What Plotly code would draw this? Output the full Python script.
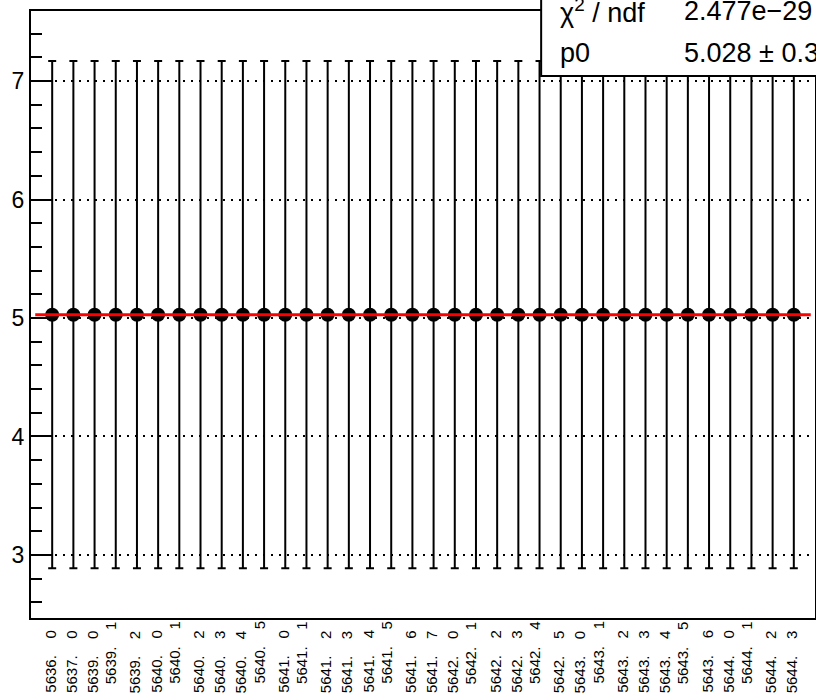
import plotly.graph_objects as go

# ---- data ----
run_labels = [
    "5636. 0", "5637. 0", "5639. 0", "5639. 1", "5639. 2", "5640. 0", "5640. 1",
    "5640. 2", "5640. 3", "5640. 4", "5640. 5", "5641. 0", "5641. 1", "5641. 2",
    "5641. 3", "5641. 4", "5641. 5", "5641. 6", "5641. 7", "5642. 0", "5642. 1",
    "5642. 2", "5642. 3", "5642. 4", "5642. 5", "5643. 0", "5643. 1", "5643. 2",
    "5643. 3", "5643. 4", "5643. 5", "5643. 6", "5644. 0", "5644. 1", "5644. 2",
    "5644. 3",
]
values = [
    5.028, 5.028, 5.028, 5.028, 5.028, 5.028, 5.028, 5.028, 5.028, 5.028, 5.028, 5.028,
    5.028, 5.028, 5.028, 5.028, 5.028, 5.028, 5.028, 5.028, 5.028, 5.028, 5.028, 5.028,
    5.028, 5.028, 5.028, 5.028, 5.028, 5.028, 5.028, 5.028, 5.028, 5.028, 5.028, 5.028,
]
errors = [
    2.14, 2.14, 2.14, 2.14, 2.14, 2.14, 2.14, 2.14, 2.14, 2.14, 2.14, 2.14,
    2.14, 2.14, 2.14, 2.14, 2.14, 2.14, 2.14, 2.14, 2.14, 2.14, 2.14, 2.14,
    2.14, 2.14, 2.14, 2.14, 2.14, 2.14, 2.14, 2.14, 2.14, 2.14, 2.14, 2.14,
]
fit_p0 = 5.028
chi2_text = "2.477e\u221229"
p0_text = "5.028 \u00b1 0.3"
y_ticks = [3, 4, 5, 6, 7]

# labels drawn slightly raised (staggered) in the original
staggered = {3, 6, 10, 12, 16, 20, 23, 26, 30, 33}

FONT = "Liberation Sans, Arial, Helvetica, sans-serif"
NB = "\u00a0"

xs = list(range(len(values)))
n = len(values)

fig = go.Figure()
fig.add_trace(go.Scatter(
    x=xs, y=values, mode="markers",
    marker=dict(color="black", size=14),
    error_y=dict(type="data", array=errors, visible=True, color="black",
                 thickness=2, width=4),
    showlegend=False, hoverinfo="skip",
))
fig.add_trace(go.Scatter(
    x=[-0.8, n - 1 + 0.8], y=[fit_p0, fit_p0], mode="lines",
    line=dict(color="#ff0000", width=3), showlegend=False, hoverinfo="skip",
))

annotations = []
for i, lab in enumerate(run_labels):
    txt = lab.replace(" ", NB * 4)
    st = i in staggered
    annotations.append(dict(
        x=i, xref="x", y=-0.0165 if not st else -0.0016, yref="paper",
        text=txt, textangle=-90, showarrow=False,
        xanchor="center", yanchor="top",
        xshift=-2 if not st else -5,
        font=dict(family=FONT, size=15, color="black"),
    ))

STAT_SIZE = 27
annotations += [
    dict(x=0.672, xref="paper", y=1.0, yref="paper", text="\u03c7<sup>2</sup> / ndf",
         showarrow=False, xanchor="left", yanchor="middle",
         font=dict(family=FONT, size=STAT_SIZE, color="black")),
    dict(x=0.830, xref="paper", y=1.0, yref="paper", text=chi2_text,
         showarrow=False, xanchor="left", yanchor="middle",
         font=dict(family=FONT, size=STAT_SIZE, color="black")),
    dict(x=0.672, xref="paper", y=0.930, yref="paper", text="p0",
         showarrow=False, xanchor="left", yanchor="middle",
         font=dict(family=FONT, size=STAT_SIZE, color="black")),
    dict(x=0.830, xref="paper", y=0.930, yref="paper", text=p0_text,
         showarrow=False, xanchor="left", yanchor="middle",
         font=dict(family=FONT, size=STAT_SIZE, color="black")),
]

fig.update_layout(
    width=816, height=696,
    margin=dict(l=30.5, r=1, t=11, b=78, pad=0, autoexpand=False),
    paper_bgcolor="white", plot_bgcolor="white",
    font=dict(family=FONT, color="black"),
    xaxis=dict(range=[-1, n], showticklabels=False, ticks="", showgrid=False,
               zeroline=False, showline=True, linecolor="black", linewidth=2,
               mirror=True, automargin=False),
    yaxis=dict(range=[2.468, 7.591], tickvals=y_ticks, ticks="inside", ticklen=22,
               tickwidth=2, tickcolor="black", showgrid=True, gridcolor="black",
               griddash="2px,6px", gridwidth=1.5, zeroline=False, showline=True,
               linecolor="black", linewidth=2, mirror=True, automargin=False,
               tickfont=dict(family=FONT, size=23, color="black"),
               minor=dict(dtick=0.2, tick0=0, ticks="inside", ticklen=11,
                          tickwidth=2, tickcolor="black", showgrid=False)),
    shapes=[dict(type="rect", xref="paper", yref="paper", x0=0.6507, x1=1.3,
                 y0=0.893, y1=1.3, fillcolor="white",
                 line=dict(color="black", width=2), layer="above")],
    annotations=annotations,
)

fig.write_html("out.html", config={"displayModeBar": False},
               post_script="document.body.style.margin='0px';")
